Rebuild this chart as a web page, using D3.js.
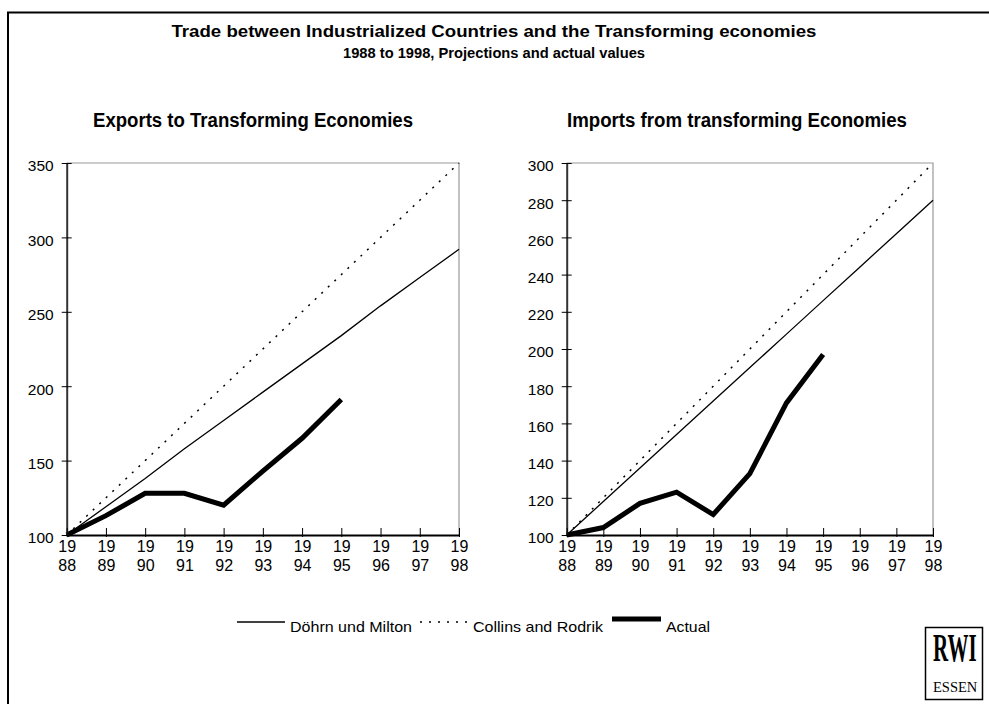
<!DOCTYPE html>
<html><head><meta charset="utf-8">
<script src="https://cdn.jsdelivr.net/npm/d3@7"></script>
<style>body{margin:0;background:#fff}svg{display:block;font-family:Arial,"Liberation Sans",sans-serif}</style>
</head><body>
<svg id="c" width="989" height="704"></svg>
<script>
const years = [1988,1989,1990,1991,1992,1993,1994,1995,1996,1997,1998];
const exportsDohrn = [100,119,138,158,177,196,215,234,254,273,292];
const exportsCollins = [100,125,150,175,200,225,250,275,300,325,350];
const exportsActual = [100,113,128,128,120,143,165,191];
const importsDohrn = [100,118,136,154,172,190,208,226,244,262,280];
const importsCollins = [100,120,140,160,180,200,220,240,260,280,300];
const importsActual = [100,104,117,123,111,133,171,197];
const exportsTicks = [100,150,200,250,300,350];
const importsTicks = [100,120,140,160,180,200,220,240,260,280,300];

const FONT = "Arial, 'Liberation Sans', sans-serif";
const svg = d3.select("#c");
// outer frame
svg.append("path").attr("d","M8,720 V12.5 H995").attr("fill","none").attr("stroke","#000").attr("stroke-width",2);

svg.append("text").attr("x",494).attr("y",37).attr("text-anchor","middle")
  .attr("font-weight","bold").attr("font-size",17).attr("textLength",645).attr("lengthAdjust","spacingAndGlyphs")
  .text("Trade between Industrialized Countries and the Transforming economies");
svg.append("text").attr("x",494).attr("y",58).attr("text-anchor","middle")
  .attr("font-weight","bold").attr("font-size",14).attr("textLength",302).attr("lengthAdjust","spacingAndGlyphs")
  .text("1988 to 1998, Projections and actual values");

function panel(x0, x1, yTop, yBot, domain, ticks, dohrn, collins, actual, title, titleX, titleW){
  const x = d3.scaleLinear().domain([1988,1998]).range([x0,x1]);
  const y = d3.scaleLinear().domain(domain).range([yBot,yTop]);
  const g = svg.append("g");
  g.append("text").attr("x",titleX).attr("y",127).attr("text-anchor","middle")
    .attr("font-weight","bold").attr("font-size",19.5).attr("textLength",titleW).attr("lengthAdjust","spacingAndGlyphs").text(title);
  // top and right frame
  g.append("path").attr("d",`M${x0},${yTop} H${x1} V${yBot}`).attr("fill","none").attr("stroke","#999").attr("stroke-width",1.2);
  const line = d3.line().x((d,i)=>x(years[i])).y(d=>y(d));
  g.append("path").datum(dohrn).attr("d",line).attr("fill","none").attr("stroke","#000").attr("stroke-width",1.3);
  g.append("path").datum(collins).attr("d",line).attr("fill","none").attr("stroke","#000").attr("stroke-width",1.5).attr("stroke-dasharray","2,7");
  g.append("path").datum(actual).attr("d",line).attr("fill","none").attr("stroke","#000").attr("stroke-width",5).attr("stroke-linejoin","miter");
  // y axis
  const ya = g.append("g").attr("transform",`translate(${x0},0)`)
    .call(d3.axisLeft(y).tickValues(ticks).tickSize(5).tickSizeOuter(0).tickFormat(d3.format("d")));
  ya.select(".domain").attr("stroke","#333").attr("stroke-width",2);
  ya.selectAll(".tick line").attr("x2",-5).attr("x1",5).attr("stroke","#000");
  ya.selectAll(".tick text").attr("font-size",15.5).attr("font-family",FONT).attr("fill","#000").attr("x",-13).attr("y",3);
  // x axis
  const xa = g.append("g").attr("transform",`translate(0,${yBot})`)
    .call(d3.axisBottom(x).tickValues(years).tickSize(0).tickSizeOuter(0).tickFormat(""));
  xa.select(".domain").attr("stroke","#000").attr("stroke-width",2);
  xa.selectAll(".tick line").attr("y1",-7).attr("y2",2).attr("stroke","#000");
  xa.selectAll(".tick").each(function(d){
    const t = d3.select(this).append("text").attr("fill","#000").attr("font-size",16)
      .attr("font-family",FONT).attr("text-anchor","middle");
    t.append("tspan").attr("x",0).attr("y",17).text(String(d).slice(0,2));
    t.append("tspan").attr("x",0).attr("y",36).text(String(d).slice(2));
  });
}
panel(66.7, 459, 163, 535, [100,350], exportsTicks, exportsDohrn, exportsCollins, exportsActual, "Exports to Transforming Economies", 253, 320);
panel(566.7, 933, 163, 535, [100,300], importsTicks, importsDohrn, importsCollins, importsActual, "Imports from transforming Economies", 737, 340);

// legend
const legendItems = [
  {label:"Döhrn und Milton", x1:237, x2:285, w:1.3, dash:null, ly:622, tw:122},
  {label:"Collins and Rodrik", x1:420, x2:468, w:1.5, dash:"2,7", ly:622, tw:130},
  {label:"Actual", x1:612, x2:661, w:5, dash:null, ly:619, tw:44}
];
const lg = svg.append("g");
legendItems.forEach(it=>{
  lg.append("line").attr("x1",it.x1).attr("x2",it.x2).attr("y1",it.ly).attr("y2",it.ly)
    .attr("stroke","#000").attr("stroke-width",it.w).attr("stroke-dasharray",it.dash);
  lg.append("text").attr("x",it.x2+5).attr("y",632).attr("font-size",15)
    .attr("textLength",it.tw).attr("lengthAdjust","spacingAndGlyphs").text(it.label);
});

// logo
const logo = svg.append("g");
logo.append("rect").attr("x",925.5).attr("y",627.5).attr("width",57).attr("height",72).attr("fill","#fff").attr("stroke","#000").attr("stroke-width",1.5);
logo.append("text").attr("transform","translate(933,661) scale(1,1.9)").attr("font-family","'Liberation Serif','DejaVu Serif',serif")
  .attr("font-weight","bold").attr("font-size",21).text("RWI");
logo.append("text").attr("x",933).attr("y",692).attr("font-family","'Liberation Serif','DejaVu Serif',serif")
  .attr("font-size",14.5).text("ESSEN");
</script>
</body></html>
